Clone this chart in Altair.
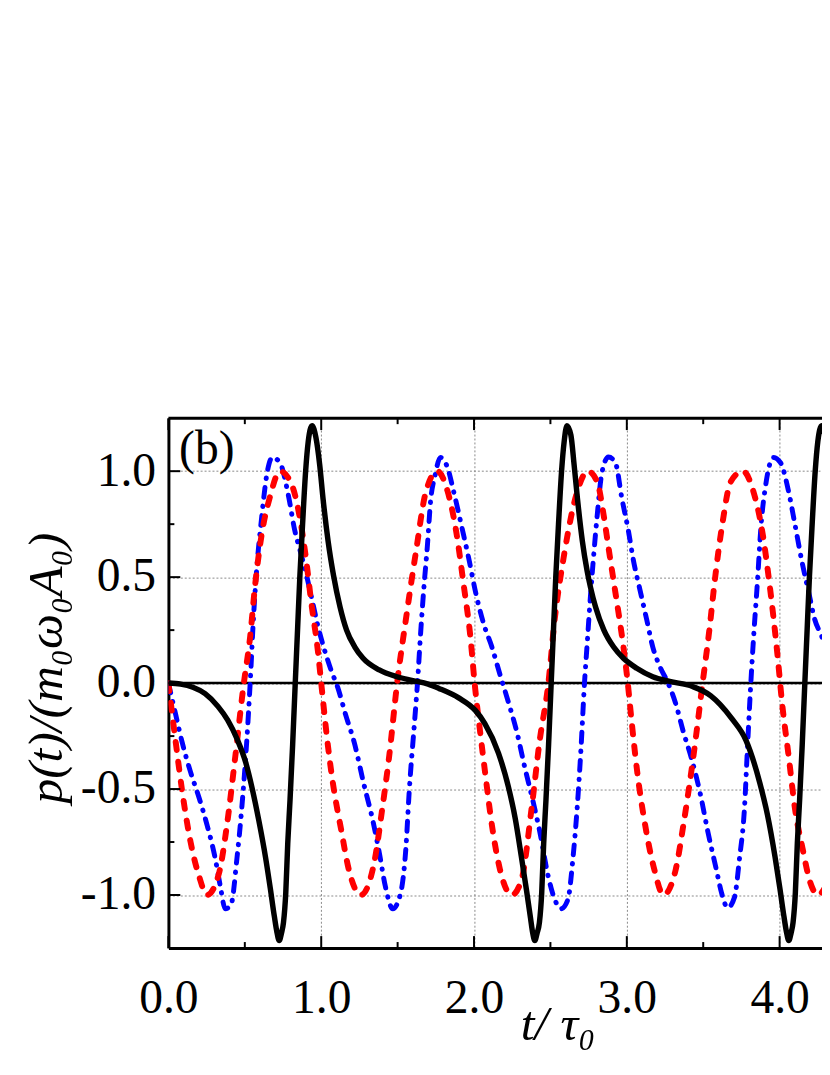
import altair as alt
import pandas as pd

# ---- data ----
t_black = [0.0, 0.08, 0.16, 0.24, 0.324, 0.388, 0.45, 0.506, 0.549, 0.592, 0.635, 0.667, 0.693, 0.71,
           0.725, 0.74, 0.753, 0.768, 0.781, 0.796, 0.813, 0.83, 0.845, 0.86, 0.878, 0.898, 0.915,
           0.94, 0.965, 0.99, 1.012, 1.045, 1.08, 1.123, 1.166, 1.22, 1.274, 1.38, 1.49, 1.60, 1.70,
           1.77, 1.90, 2.01, 2.07, 2.16, 2.225, 2.27, 2.31, 2.344, 2.37, 2.383, 2.398, 2.413, 2.428,
           2.443, 2.456, 2.471, 2.488, 2.505, 2.52, 2.535, 2.553, 2.573, 2.59, 2.608, 2.634, 2.655,
           2.677, 2.709, 2.74, 2.763, 2.795, 2.85, 2.914, 2.978, 3.065, 3.17, 3.28, 3.43, 3.55, 3.61,
           3.69, 3.78, 3.87, 3.92, 3.97, 4.002, 4.028, 4.045, 4.06, 4.075, 4.088, 4.103, 4.116, 4.131,
           4.148, 4.165, 4.18, 4.195, 4.213, 4.233, 4.25, 4.275, 4.30]
p_black = [0.0, -0.005, -0.02, -0.05, -0.110, -0.175, -0.265, -0.375, -0.50, -0.65, -0.82, -0.97, -1.10, -1.175,
           -1.215, -1.18, -1.13, -0.99, -0.755, -0.55, -0.29, 0.0, 0.25, 0.50, 0.75, 1.0, 1.14,
           1.215, 1.16, 1.03, 0.87, 0.67, 0.51, 0.36, 0.25, 0.17, 0.117, 0.062, 0.031, 0.012, -0.005,
           -0.025, -0.07, -0.13, -0.19, -0.33, -0.49, -0.64, -0.82, -0.98, -1.11, -1.175, -1.215, -1.18, -1.13,
           -0.99, -0.755, -0.55, -0.29, 0.0, 0.25, 0.50, 0.75, 1.0, 1.14, 1.215, 1.17, 1.03,
           0.87, 0.67, 0.53, 0.45, 0.36, 0.25, 0.17, 0.117, 0.07, 0.03, 0.008, -0.016, -0.06, -0.10,
           -0.17, -0.27, -0.47, -0.62, -0.82, -0.97, -1.10, -1.175, -1.215, -1.18, -1.13, -0.99, -0.755, -0.55,
           -0.29, 0.0, 0.25, 0.50, 0.75, 1.0, 1.14, 1.215, 1.16]

t_red = [0.0, 0.048, 0.09, 0.145, 0.20, 0.253, 0.33, 0.383, 0.437, 0.49, 0.535, 0.567, 0.61, 0.665,
         0.73, 0.805, 0.86, 0.90, 0.935, 0.98, 1.0, 1.043, 1.076, 1.13, 1.184, 1.26, 1.346, 1.40,
         1.444, 1.50, 1.554, 1.62, 1.684, 1.76, 1.825, 1.88, 1.933, 1.976, 2.004, 2.04, 2.074, 2.117,
         2.17, 2.247, 2.31, 2.377, 2.43, 2.485, 2.528, 2.593, 2.67, 2.745, 2.806, 2.849, 2.88, 2.914,
         2.946, 2.978, 3.004, 3.03, 3.07, 3.12, 3.18, 3.24, 3.32, 3.37, 3.435, 3.496, 3.54, 3.58,
         3.625, 3.68, 3.76, 3.83, 3.89, 3.93, 3.985, 4.017, 4.06, 4.10, 4.15, 4.20, 4.254, 4.30]
p_red = [0.0, -0.28, -0.51, -0.75, -0.91, -1.0, -0.90, -0.67, -0.35, -0.02, 0.22, 0.46, 0.70, 0.88,
         1.0, 0.94, 0.78, 0.59, 0.38, 0.14, 0.0, -0.29, -0.47, -0.69, -0.89, -1.0, -0.85, -0.59,
         -0.35, 0.02, 0.30, 0.62, 0.90, 1.0, 0.91, 0.73, 0.46, 0.22, 0.0, -0.23, -0.43, -0.67,
         -0.88, -1.0, -0.93, -0.59, -0.27, -0.01, 0.30, 0.62, 0.89, 1.0, 0.95, 0.79, 0.64, 0.48,
         0.33, 0.17, 0.016, -0.17, -0.43, -0.67, -0.88, -1.0, -0.88, -0.67, -0.35, 0.0, 0.25, 0.51,
         0.75, 0.95, 1.0, 0.90, 0.70, 0.49, 0.14, -0.10, -0.35, -0.59, -0.78, -0.94, -1.0, -0.96]

t_blue = [0.0, 0.048, 0.09, 0.145, 0.20, 0.253, 0.307, 0.34, 0.372, 0.41, 0.448, 0.48, 0.513, 0.535,
          0.556, 0.578, 0.61, 0.643, 0.68, 0.73, 0.784, 0.827, 0.86, 0.89, 0.935, 0.978, 1.02, 1.065,
          1.108, 1.16, 1.216, 1.28, 1.335, 1.38, 1.42, 1.468, 1.52, 1.554, 1.576, 1.61, 1.63, 1.65,
          1.673, 1.695, 1.716, 1.745, 1.78, 1.825, 1.868, 1.922, 1.965, 2.01, 2.063, 2.117, 2.17, 2.225,
          2.28, 2.333, 2.387, 2.43, 2.485, 2.528, 2.57, 2.615, 2.647, 2.675, 2.70, 2.723, 2.741, 2.763,
          2.784, 2.806, 2.838, 2.88, 2.925, 2.968, 3.01, 3.043, 3.086, 3.13, 3.17, 3.215, 3.27, 3.317,
          3.37, 3.425, 3.48, 3.53, 3.586, 3.62, 3.66, 3.705, 3.737, 3.77, 3.79, 3.81, 3.83, 3.856,
          3.877, 3.91, 3.96, 4.006, 4.06, 4.10, 4.147, 4.19, 4.23, 4.276, 4.30]
p_blue = [0.0, -0.15, -0.28, -0.42, -0.54, -0.67, -0.83, -0.96, -1.065, -1.045, -0.83, -0.59, -0.27, 0.0,
          0.30, 0.54, 0.78, 0.98, 1.065, 1.04, 0.89, 0.72, 0.63, 0.55, 0.41, 0.27, 0.16, 0.06,
          -0.02, -0.15, -0.28, -0.48, -0.64, -0.80, -0.96, -1.065, -0.99, -0.78, -0.51, -0.19, 0.0, 0.23,
          0.46, 0.65, 0.86, 0.98, 1.065, 1.02, 0.90, 0.73, 0.59, 0.43, 0.28, 0.17, 0.04, -0.09,
          -0.23, -0.40, -0.56, -0.70, -0.91, -1.02, -1.065, -1.02, -0.83, -0.59, -0.31, 0.0, 0.19, 0.42,
          0.61, 0.79, 0.997, 1.067, 1.04, 0.87, 0.72, 0.58, 0.44, 0.30, 0.17, 0.08, 0.0, -0.09,
          -0.23, -0.36, -0.52, -0.70, -0.88, -0.99, -1.06, -1.01, -0.83, -0.59, -0.30, -0.02, 0.22, 0.49,
          0.73, 0.94, 1.065, 1.04, 0.90, 0.75, 0.57, 0.43, 0.30, 0.22, 0.17]

x_major = [0, 1, 2, 3, 4]
x_minor = [0.5, 1.5, 2.5, 3.5]
y_major = [-1.0, -0.5, 0.0, 0.5, 1.0]
y_minor = [-0.75, -0.25, 0.25, 0.75]
panel_label = ["(b)"]

W, H = 660, 535
XMAX = 660 / 154.3
FONT = "Liberation Serif"

xs = alt.Scale(domain=[0, XMAX], nice=False, zero=False)
ys = alt.Scale(domain=[-1.25, 1.25], nice=False, zero=False)

xaxis = alt.Axis(values=x_major, labelExpr="format(datum.value, '.1f')", grid=True,
                 gridDash=[2, 2], gridColor="#8a8a8a", gridWidth=1, domain=True,
                 domainColor="black", domainWidth=3, ticks=False, tickSize=0,
                 labelFont=FONT, labelFontSize=48, labelColor="black", labelPadding=27,
                 labelFlush=False, labelOverlap=False, labelBound=False,
                 title="t/ τ₀", titleFont=FONT, titleFontSize=50, titleFontStyle="italic",
                 titleFontWeight="normal", titleColor="black", titleX=393, titleY=92,
                 titleBaseline="alphabetic", titleAlign="center")
yaxis = alt.Axis(values=y_major,
                 labelExpr="(datum.value < 0 ? '-' : '') + format(abs(datum.value), '.1f')",
                 grid=True, gridDash=[2, 2], gridColor="#8a8a8a", gridWidth=1, domain=True,
                 domainColor="black", domainWidth=3, ticks=False, tickSize=0,
                 labelFont=FONT, labelFontSize=48, labelColor="black", labelPadding=13,
                 labelFlush=False, labelOverlap=False, labelBound=False,
                 title="p(t)/(m₀ω₀A₀)", titleFont=FONT, titleFontSize=50,
                 titleFontStyle="italic", titleFontWeight="normal", titleColor="black",
                 titleAngle=270, titleX=-108, titleY=252, titleBaseline="alphabetic",
                 titleAlign="center")

df_black = pd.DataFrame({"t": t_black, "p": p_black})
df_red = pd.DataFrame({"t": t_red, "p": p_red})
df_blue = pd.DataFrame({"t": t_blue, "p": p_blue})

zero = alt.Chart(pd.DataFrame({"p": [0.0]})).mark_rule(color="black", strokeWidth=2.5).encode(
    y=alt.Y("p:Q", scale=ys, axis=yaxis))

blue = alt.Chart(df_blue).mark_line(color="#0000ff", strokeWidth=5, strokeDash=[10, 9, 0.5, 9],
                                    strokeCap="round", interpolate="monotone", clip=True).encode(
    x=alt.X("t:Q", scale=xs, axis=xaxis), y=alt.Y("p:Q", scale=ys, axis=yaxis))
red = alt.Chart(df_red).mark_line(color="#ff0000", strokeWidth=6, strokeDash=[8, 12],
                                  strokeCap="round", interpolate="monotone", clip=True).encode(
    x=alt.X("t:Q", scale=xs), y=alt.Y("p:Q", scale=ys))
black = alt.Chart(df_black).mark_line(color="black", strokeWidth=5.5, interpolate="monotone",
                                      clip=True).encode(
    x=alt.X("t:Q", scale=xs), y=alt.Y("p:Q", scale=ys))

# inward ticks (left, bottom, top)
ym = alt.Chart(pd.DataFrame({"p": y_major})).mark_rule(color="black", strokeWidth=2).encode(
    y=alt.Y("p:Q", scale=ys), x=alt.value(0), x2=alt.value(12))
yn = alt.Chart(pd.DataFrame({"p": y_minor})).mark_rule(color="black", strokeWidth=2).encode(
    y=alt.Y("p:Q", scale=ys), x=alt.value(0), x2=alt.value(6))
xmb = alt.Chart(pd.DataFrame({"t": x_major})).mark_rule(color="black", strokeWidth=2).encode(
    x=alt.X("t:Q", scale=xs), y=alt.value(H), y2=alt.value(H - 12))
xnb = alt.Chart(pd.DataFrame({"t": x_minor})).mark_rule(color="black", strokeWidth=2).encode(
    x=alt.X("t:Q", scale=xs), y=alt.value(H), y2=alt.value(H - 6))
xmt = alt.Chart(pd.DataFrame({"t": x_major})).mark_rule(color="black", strokeWidth=2).encode(
    x=alt.X("t:Q", scale=xs), y=alt.value(0), y2=alt.value(12))
xnt = alt.Chart(pd.DataFrame({"t": x_minor})).mark_rule(color="black", strokeWidth=2).encode(
    x=alt.X("t:Q", scale=xs), y=alt.value(0), y2=alt.value(6))
topline = alt.Chart(pd.DataFrame({"p": [1.25]})).mark_rule(color="black", strokeWidth=3).encode(
    y=alt.Y("p:Q", scale=ys))

label = alt.Chart(pd.DataFrame({"t": [0.07], "p": [1.10], "s": panel_label})).mark_text(
    align="left", baseline="middle", font=FONT, fontSize=48, color="black").encode(
    x=alt.X("t:Q", scale=xs), y=alt.Y("p:Q", scale=ys), text="s:N")

chart = alt.layer(zero, blue, red, black, ym, yn, xmb, xnb, xmt, xnt, topline, label).properties(
    width=W, height=H,
    autosize=alt.AutoSizeParams(type="none"),
    padding={"left": 162, "top": 409, "right": 0, "bottom": 120},
    background="white",
).configure_view(stroke=None)

chart.save("out.html", embed_options={"renderer": "svg", "actions": False})
